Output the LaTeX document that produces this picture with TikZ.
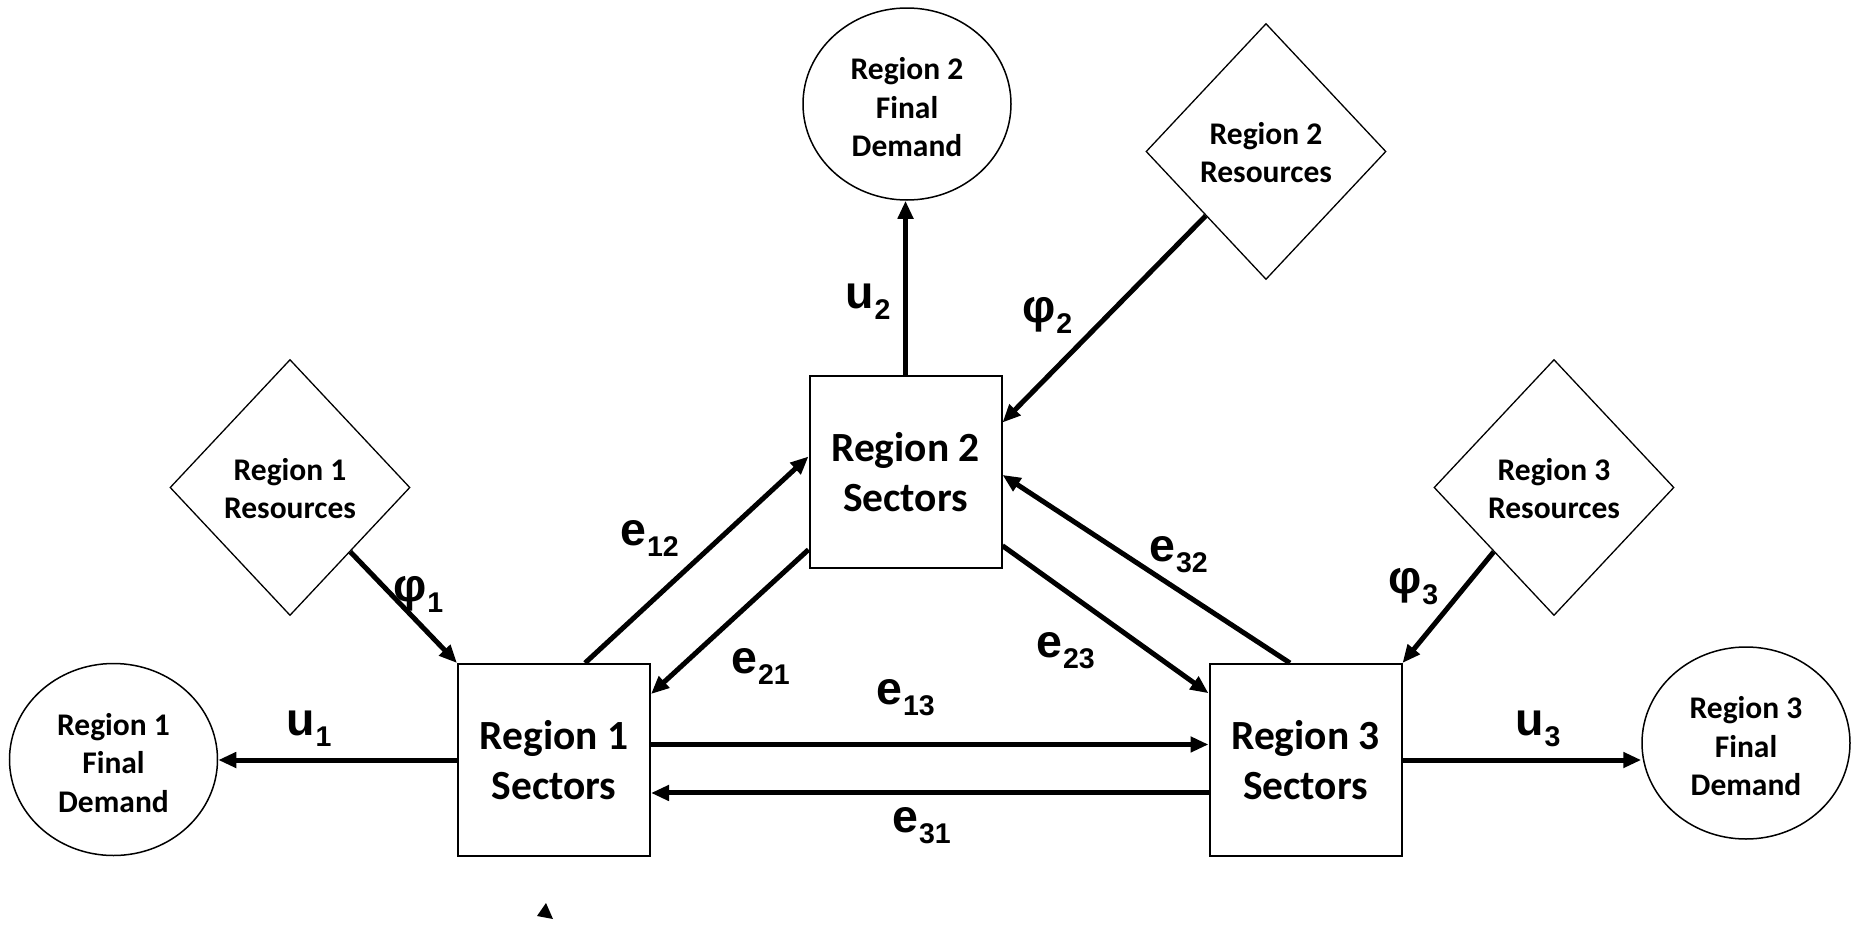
\documentclass[tikz,border=0pt]{standalone}
\usepackage{fontspec}
\setmainfont{Carlito}
\newfontfamily\labfont{Liberation Sans}
\usetikzlibrary{shapes.geometric,arrows.meta,calc}
\newcommand\mysub[1]{\kern1pt\raisebox{-11pt}{\fontsize{28.5}{28.5}\selectfont #1}}
\newcommand\fdtop{\rule{0pt}{29pt}}
\newcommand\restop{\rule{0pt}{24.5pt}}
\begin{document}
\begin{tikzpicture}[x=1pt,y=-1pt,
  box/.style={draw,line width=2pt,minimum width=192pt,minimum height=192pt,inner sep=0pt,align=center,font=\bfseries\fontsize{41.5}{49.5}\selectfont},
  fd/.style={ellipse,draw,line width=1.5pt,minimum width=208pt,minimum height=192pt,inner sep=0pt,align=center,font=\bfseries\fontsize{31.5}{38.5}\selectfont},
  res/.style={diamond,draw,line width=1.3pt,minimum width=240pt,minimum height=256pt,inner sep=0pt,align=center,font=\bfseries\fontsize{31.5}{38.5}\selectfont},
  flow/.style={line width=5pt,-{Triangle[length=18pt,width=15pt]}},
  lab/.style={anchor=base west,inner sep=0pt,font=\labfont\bfseries\fontsize{46.5}{46.5}\selectfont}]
\fill[white] (0,0) rectangle (1856,924);
\useasboundingbox (0,0) rectangle (1856,924);
% sectors
\node[box] (r1) at (554,760) {Region 1\\Sectors};
\node[box] (r2) at (905.5,472) {Region 2\\Sectors};
\node[box] (r3) at (1305.5,760) {Region 3\\Sectors};
% final demand
\node[fd] (f1) at (113.5,759.5) {\fdtop Region 1\\Final\\Demand};
\node[fd] (f2) at (907,104) {\fdtop Region 2\\Final\\Demand};
\node[fd] (f3) at (1746,743) {\fdtop Region 3\\Final\\Demand};
% resources
\node[res] (d1) at (290,487.5) {\restop Region 1\\Resources};
\node[res] (d2) at (1266,151.5) {\restop Region 2\\Resources};
\node[res] (d3) at (1554,487.5) {\restop Region 3\\Resources};
% flows
\draw[flow] (r1.west) -- (r1.west -| f1.east);
\draw[flow] ($(d1.east)!.5!(d1.south)$) -- (r1.north west);
\draw[flow] ($(r1.north west)!.66!(r1.north east)$) -- ($(r2.north west)!.42!(r2.south west)$);
\draw[flow] ($(r2.north west)!.9!(r2.south west)$) -- ($(r1.north east)!.16!(r1.south east)$);
\draw[flow] ($(r1.north east)!.42!(r1.south east)$) -- ($(r3.north west)!.42!(r3.south west)$);
\draw[flow] ($(r3.north west)!.67!(r3.south west)$) -- ($(r1.north east)!.67!(r1.south east)$);
\draw[flow] (r2.north) -- (r2.north |- f2.south);
\draw[flow] ($(d2.west)!.5!(d2.south)$) -- ($(r2.north east)!.245!(r2.south east)$);
\draw[flow] ($(r3.north west)!.42!(r3.north east)$) -- ($(r2.north east)!.515!(r2.south east)$);
\draw[flow] ($(r2.north east)!.88!(r2.south east)$) -- ($(r3.north west)!.156!(r3.south west)$);
\draw[flow] ($(d3.west)!.5!(d3.south)$) -- (r3.north east);
\draw[flow] (r3.east) -- (r3.east -| f3.west);
% labels
\node[lab] (lu1) at (286,735) {u\mysub{1}};
\node[lab] (lp1) at (393,601) {φ\mysub{1}};
\node[lab] (le12) at (620,545) {e\mysub{12}};
\node[lab] (le21) at (731,673) {e\mysub{21}};
\node[lab] (le13) at (876,704) {e\mysub{13}};
\node[lab] (le31) at (892,832) {e\mysub{31}};
\node[lab] (lu2) at (845,308) {u\mysub{2}};
\node[lab] (lp2) at (1022,322) {φ\mysub{2}};
\node[lab] (le32) at (1149,561) {e\mysub{32}};
\node[lab] (le23) at (1036,657) {e\mysub{23}};
\node[lab] (lp3) at (1388,593) {φ\mysub{3}};
\node[lab] (lu3) at (1515,735) {u\mysub{3}};
% stray arrowhead mark
\fill (546,903) -- (537,916) -- (553,919) -- cycle;
\end{tikzpicture}
\end{document}
